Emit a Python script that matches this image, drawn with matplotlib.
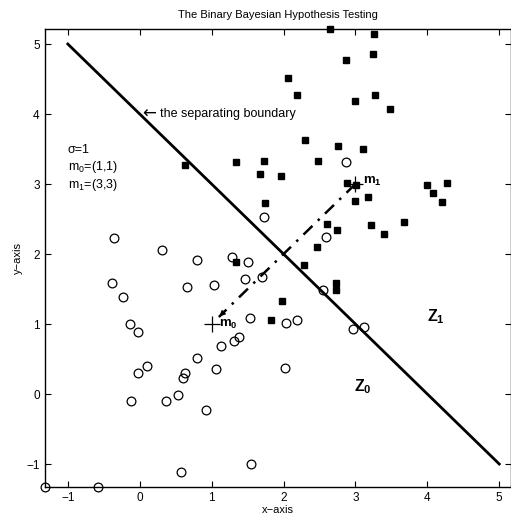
import matplotlib
matplotlib.use("Agg")
import matplotlib.pyplot as plt

plt.rcParams['font.family'] = ['Liberation Sans', 'DejaVu Sans']
plt.rcParams['mathtext.fontset'] = 'custom'
plt.rcParams['mathtext.rm'] = 'Liberation Sans'
plt.rcParams['mathtext.it'] = 'Liberation Sans'
plt.rcParams['mathtext.bf'] = 'Liberation Sans:bold'

# class 1 samples (filled squares)
x1 = [0.634, 1.335, 1.669, 2.651, 3.259, 3.245, 2.869, 2.058, 2.192, 3.277,
      2.990, 3.486, 2.295, 2.754, 3.106, 1.729, 2.476, 1.970, 2.883, 3.008,
      3.992, 4.278, 4.075, 4.209, 2.995, 3.175, 1.743, 3.681, 3.222, 2.600,
      2.740, 3.398, 2.461, 1.335, 2.285, 2.726, 2.726, 1.979, 1.826]
y1 = [3.267, 3.314, 3.139, 5.210, 5.138, 4.853, 4.767, 4.510, 4.276, 4.267,
      4.186, 4.067, 3.624, 3.539, 3.500, 3.329, 3.324, 3.114, 3.014, 2.986,
      2.990, 3.010, 2.867, 2.743, 2.757, 2.810, 2.729, 2.457, 2.419, 2.429,
      2.343, 2.281, 2.105, 1.881, 1.838, 1.590, 1.486, 1.324, 1.057]

# class 0 samples (open circles)
x0 = [2.865, 1.724, 2.596, -0.353, 0.314, 0.793, 1.288, 1.506, -0.381, 0.662,
      1.038, 1.469, 1.705, -0.232, -0.135, -0.024, 1.534, 1.316, 1.376, 1.131,
      0.797, 0.097, -0.024, 0.634, 0.607, 1.057, 0.537, -0.117, 0.370, 0.927,
      0.570, 1.553, -1.321, -0.584, 2.554, 2.035, 2.192, 2.962, 3.120, 2.017]
y0 = [3.310, 2.524, 2.238, 2.229, 2.057, 1.914, 1.952, 1.886, 1.590, 1.533,
      1.557, 1.638, 1.667, 1.381, 0.995, 0.886, 1.090, 0.752, 0.819, 0.681,
      0.509, 0.400, 0.305, 0.295, 0.224, 0.357, -0.014, -0.100, -0.095, -0.229,
      -1.119, -1.000, -1.324, -1.324, 1.481, 1.014, 1.057, 0.924, 0.962, 0.371]

m0 = (1, 1)
m1 = (3, 3)
boundary_x = [-1, 5]
boundary_y = [5, -1]

fig = plt.figure(figsize=(5.11, 5.17), dpi=100)
ax = fig.add_axes([0.0871, 0.0586, 0.913, 0.8847])

ax.plot(x1, y1, 's', color='black', markersize=5, clip_on=False)
ax.plot(x0, y0, 'o', markerfacecolor='none', markeredgecolor='black',
        markersize=6.3, markeredgewidth=0.9, clip_on=False)

ax.plot(boundary_x, boundary_y, '-', color='black', linewidth=2)

# line between the means, arrow pointing at m0
ax.plot([m1[0], 1.1], [m1[1], 1.1], color='black', linewidth=1.8,
        linestyle=(0, (5, 3, 1, 3)))
ax.annotate('', xy=(1.08, 1.08), xytext=(1.2, 1.2),
            arrowprops=dict(arrowstyle='-|>', color='black', lw=1,
                            mutation_scale=8))

ax.plot(*m0, '+', color='black', markersize=12, markeredgewidth=0.9)
ax.plot(*m1, '+', color='black', markersize=11, markeredgewidth=0.9)

ax.text(1.1, 1.0, r'$\mathbf{m}_\mathbf{0}$', fontsize=9.5,
        va='center', ha='left')
ax.text(3.1, 3.03, r'$\mathbf{m}_\mathbf{1}$', fontsize=9.5,
        va='center', ha='left')

ax.text(0.03, 4.0, '\u2190', fontsize=12, family='DejaVu Sans',
        va='center', ha='left')
ax.text(0.28, 4.0, 'the separating boundary', fontsize=9,
        va='center', ha='left')

ax.text(-1.0, 3.49, '\u03c3=1', fontsize=9, va='center', ha='left')
ax.text(-1.0, 3.24, r'm$_0$=(1,1)', fontsize=9, va='center', ha='left')
ax.text(-1.0, 2.99, r'm$_1$=(3,3)', fontsize=9, va='center', ha='left')

ax.text(4.0, 1.1, r'$\mathbf{Z}_\mathbf{1}$', fontsize=11.5, va='center', ha='left')
ax.text(2.98, 0.1, r'$\mathbf{Z}_\mathbf{0}$', fontsize=11.5, va='center', ha='left')

ax.set_xlim(-1.324, 5.164)
ax.set_ylim(-1.324, 5.21)
ax.set_xticks(range(-1, 6))
ax.set_yticks(range(-1, 6))
ax.tick_params(direction='in', length=4, width=0.8, top=True, right=True,
               labelsize=8.5)
for s in ax.spines.values():
    s.set_linewidth(1)

ax.set_title('The Binary Bayesian Hypothesis Testing', fontsize=8, pad=8)
ax.set_xlabel('x\u2212axis', fontsize=8, labelpad=1)
ax.set_ylabel('y\u2212axis', fontsize=8, labelpad=2)

fig.savefig('out.png', dpi=100)
